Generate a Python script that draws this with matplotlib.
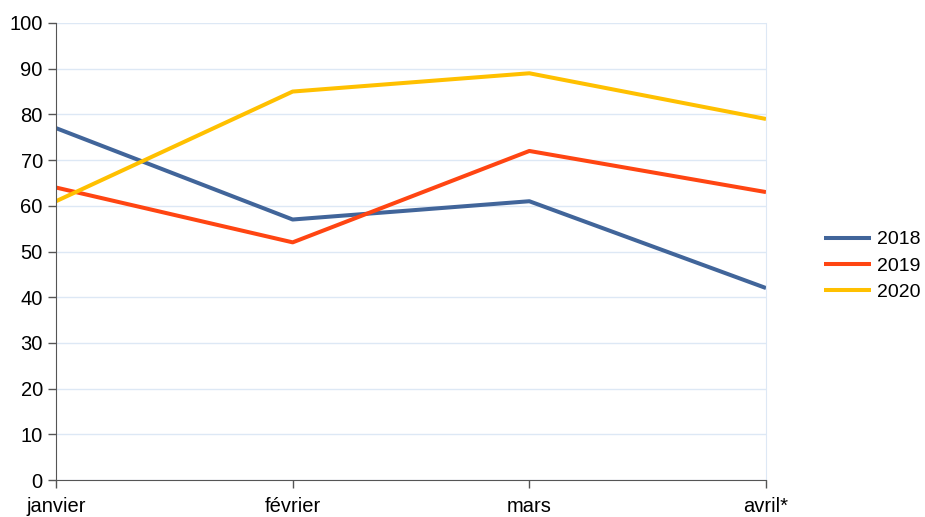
import matplotlib
matplotlib.use("Agg")
import matplotlib.pyplot as plt

plt.rcParams['font.family'] = ['Liberation Sans', 'DejaVu Sans']

months = ["janvier", "février", "mars", "avril*"]
s2018 = [77, 57, 61, 42]
s2019 = [64, 52, 72, 63]
s2020 = [61, 85, 89, 79]
series = [("2018", s2018, "#41659a"), ("2019", s2019, "#ff4512"), ("2020", s2020, "#ffc000")]
yticks = list(range(0, 101, 10))

fig = plt.figure(figsize=(9.25, 5.17), dpi=100)
ax = fig.add_axes([56/925, 37/517, 710/925, 457/517])

x = list(range(len(months)))
for name, vals, col in series:
    ax.plot(x, vals, color=col, lw=2.9, label=name, solid_capstyle='butt', solid_joinstyle='round')

ax.set_xlim(0, len(months) - 1)
ax.set_ylim(0, 100)
ax.set_xticks(x)
ax.set_xticklabels(months)
ax.set_yticks(yticks)
ax.tick_params(axis='both', labelsize=14.5, direction='out', length=6, width=1, color='#555555')
ax.tick_params(axis='y', pad=3.5)
ax.tick_params(axis='x', pad=6)
ax.grid(axis='y', color='#dde8f5', lw=1)
ax.set_axisbelow(True)
ax.spines['top'].set_visible(False)
ax.spines['right'].set_color('#dde8f5')
ax.spines['left'].set_color('#555555')
ax.spines['bottom'].set_color('#555555')

fig.legend(loc='center left', bbox_to_anchor=(824/925, 1 - 266/517), frameon=False,
           fontsize=14, handlelength=2.4, handletextpad=0.35, labelspacing=0.45,
           borderpad=0, borderaxespad=0)

fig.savefig("out.png", dpi=100)
